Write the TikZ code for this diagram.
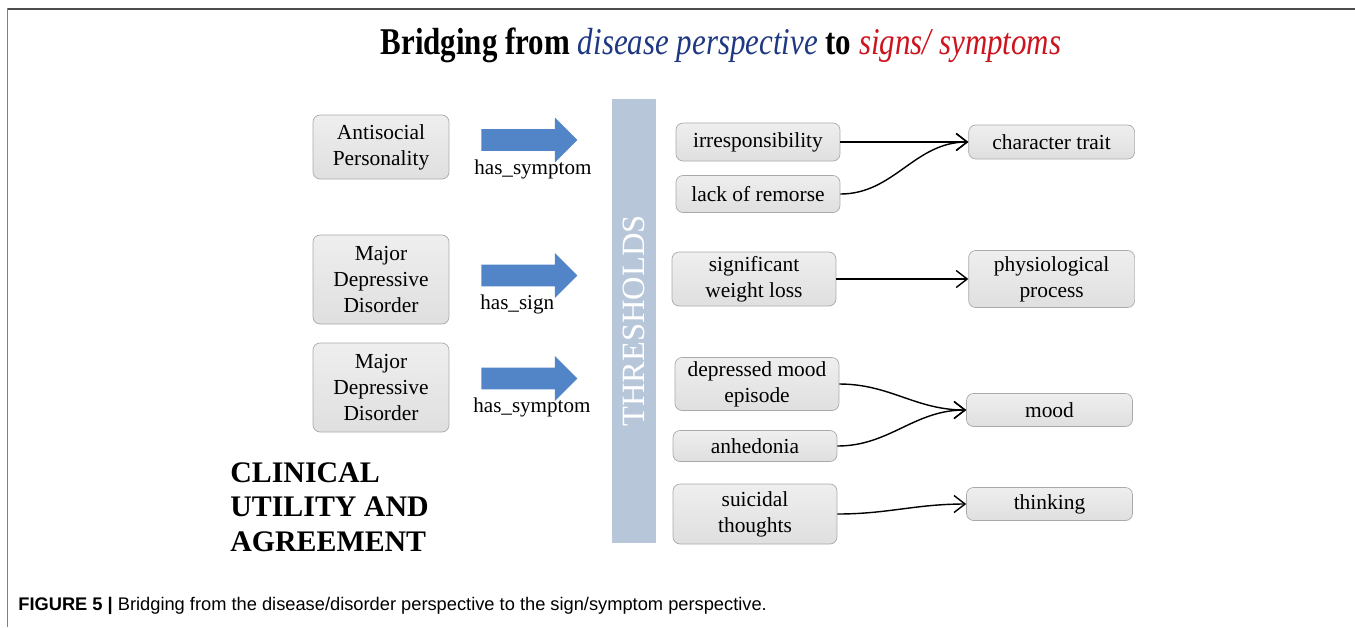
\documentclass[tikz,border=0pt]{standalone}
\usepackage{fontspec}
\setmainfont{Liberation Serif}
\setsansfont{Liberation Sans}
\newfontfamily\titlefont[FakeStretch=0.82]{Liberation Serif}
\usetikzlibrary{positioning,shapes.arrows,arrows.meta}

\definecolor{relblue}{RGB}{82,133,200}
\definecolor{barblue}{RGB}{183,199,217}
\definecolor{perspblue}{RGB}{31,56,130}
\definecolor{symred}{RGB}{205,20,30}
\definecolor{boxedge}{RGB}{170,170,170}

\begin{document}
\begin{tikzpicture}[x=0.02cm,y=-0.02cm,
    box/.style={draw=boxedge, rounded corners=4pt, top color=gray!13, bottom color=gray!25,
                align=center, inner sep=1pt, font=\fontsize{12.2}{14.7}\selectfont},
    leftbox/.style={box, minimum width=2.72cm, minimum height=1.78cm},
    midbox/.style={box, minimum width=3.28cm},
    outbox/.style={box, minimum width=3.32cm},
    relarrow/.style={single arrow, fill=relblue, minimum height=1.92cm, minimum width=0.88cm,
                     inner sep=0.21cm, single arrow head extend=0.23cm, anchor=tail},
    rel/.style={inner sep=0pt, anchor=north west, font=\fontsize{12}{14}\selectfont},
    link/.style={line width=0.8pt, -{Straight Barb[length=2.2mm,width=3.4mm]}}
  ]
  \useasboundingbox (0,0) rectangle (1355,627);
  % frame
  \draw[line width=0.04cm, gray!60!black] (7,8.5) -- (1355,8.5);
  \draw[line width=0.04cm, gray] (7.5,8) -- (7.5,627);

  \node[font=\titlefont\fontsize{21.5}{24}\selectfont] (title) at (721,45)
    {\textbf{Bridging from} \textit{\color{perspblue}disease perspective} \textbf{to} \textit{\color{symred}signs/ symptoms}};

  % disorders
  \node[leftbox, minimum height=1.28cm] (asp) at (381,147) {Antisocial\\Personality};
  \node[leftbox] (mdd1) at (381,279.5) {Major\\Depressive\\Disorder};
  \node[leftbox] (mdd2) at (381,387.5) {Major\\Depressive\\Disorder};

  \node[relarrow] (ar1) at (481,140) {};
  \node[relarrow] (ar2) at (481,275.5) {};
  \node[relarrow] (ar3) at (481,378.5) {};
  \node[rel] (r1) at ([xshift=-0.14cm,yshift=-0.4cm]ar1.tail) {has\_symptom};
  \node[rel] (r2) at ([xshift=-0.02cm,yshift=-0.39cm]ar2.tail) {has\_sign};
  \node[rel] (r3) at ([xshift=-0.16cm,yshift=-0.39cm]ar3.tail) {has\_symptom};

  \node[fill=barblue, text=white, rotate=90, minimum width=8.88cm, minimum height=0.88cm,
        inner sep=0pt, font=\fontsize{18.5}{20}\selectfont] (thr) at (634,321) {THRESHOLDS};

  % signs / symptoms
  \node[midbox, minimum height=0.76cm] (irr) at (758,142) {irresponsibility};
  \node[midbox, minimum height=0.74cm] (lack) at (758,194) {lack of remorse};
  \node[midbox, minimum height=1.08cm] (swl) at (754,279) {significant\\weight loss};
  \node[midbox, minimum height=1.06cm] (dme) at (757,384) {depressed mood\\episode};
  \node[midbox, minimum height=0.62cm] (anh) at (755,446) {anhedonia};
  \node[midbox, minimum height=1.2cm] (sui) at (755,514) {suicidal\\thoughts};

  % categories
  \node[outbox, minimum height=0.68cm, right=2.56cm of irr] (ct) {character trait};
  \node[outbox, minimum height=1.14cm, right=2.64cm of swl] (pp) {physiological\\process};
  \node[outbox, minimum height=0.66cm] (mood) at (1049.5,410) {mood};
  \node[outbox, minimum height=0.66cm] (think) at (1049.5,504) {thinking};

  \draw[link] (irr.east) -- (ct.west);
  \draw[link] (lack.east) to[out=0,in=180] (ct.west);
  \draw[link] (swl.east) to[out=0,in=180] (pp.west);
  \draw[link] (dme.east) to[out=0,in=180] (mood.west);
  \draw[link] (anh.east) to[out=0,in=180] (mood.west);
  \draw[link] (sui.east) to[out=0,in=180] (think.west);

  \node[anchor=north west, align=left, inner sep=0pt, font=\bfseries\fontsize{17}{19.8}\selectfont]
    (cua) at (230,462) {CLINICAL\\UTILITY AND\\AGREEMENT};

  \node[anchor=west, inner sep=0pt, font=\sffamily\fontsize{10.4}{12}\selectfont] (cap) at (18,606)
    {\textbf{FIGURE 5 |} Bridging from the disease/disorder perspective to the sign/symptom perspective.};
\end{tikzpicture}
\end{document}
